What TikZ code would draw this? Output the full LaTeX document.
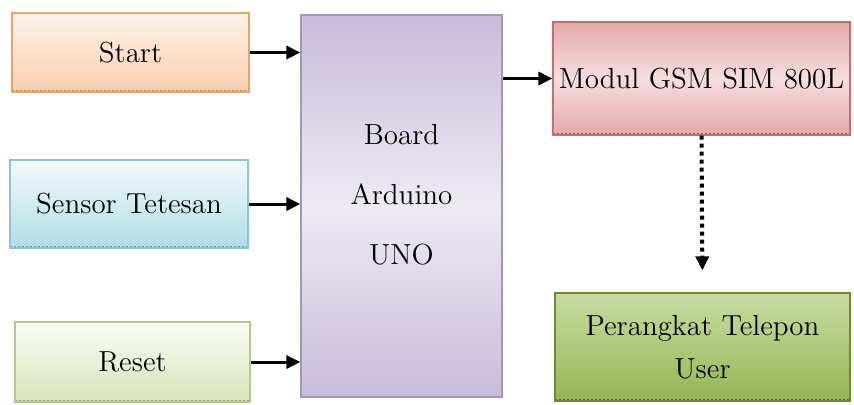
\documentclass[tikz,border=0pt]{standalone}
\usepackage{xcolor}
\usetikzlibrary{arrows.meta, positioning, calc}

\definecolor{startedge}{HTML}{E8A468}
\definecolor{starttop}{HTML}{FDF3EA}
\definecolor{startbot}{HTML}{F9CFAE}
\definecolor{sensedge}{HTML}{8CC5D4}
\definecolor{senstop}{HTML}{F2FAFC}
\definecolor{sensbot}{HTML}{B3DCE7}
\definecolor{resedge}{HTML}{B5C98C}
\definecolor{restop}{HTML}{FBFDF3}
\definecolor{resbot}{HTML}{D6E3BA}
\definecolor{boardedge}{HTML}{A397BE}
\definecolor{boardmid}{HTML}{EEEAF4}
\definecolor{boarddark}{HTML}{C7BCDA}
\definecolor{gsmedge}{HTML}{C46E6E}
\definecolor{gsmtop}{HTML}{E4A9A9}
\definecolor{gsmmid}{HTML}{F6DEDE}
\definecolor{useredge}{HTML}{6E8B34}
\definecolor{usertop}{HTML}{C9DCA2}
\definecolor{userbot}{HTML}{95B653}

\begin{document}
\begin{tikzpicture}[
  x=0.5pt, y=-0.5pt,
  font=\fontsize{14.5}{21.5}\selectfont,
  >={Triangle[length=7pt, width=6.5pt]},
  blok/.style n args={3}{draw=#1, line width=0.6pt, top color=#2, bottom color=#3,
    align=center, inner sep=0pt,
    path picture={\draw[#1!80!black, line width=2pt, dash pattern=on 1pt off 1pt]
      (path picture bounding box.south west) -- (path picture bounding box.south east);}},
  panah/.style={->, line width=1.5pt},
  titik/.style={->, line width=2pt, dash pattern=on 2pt off 2pt}
]
\useasboundingbox (0,0) rectangle (854,404);

% Input blocks
\node[blok={startedge}{starttop}{startbot}, minimum width=118.5pt, minimum height=39.5pt]
  (start) at (130.5,52.5) {Start};
\node[blok={sensedge}{senstop}{sensbot}, minimum width=119pt, minimum height=44pt]
  (sensor) at (129,204) {Sensor Tetesan};
\node[blok={resedge}{restop}{resbot}, minimum width=117.5pt, minimum height=40pt]
  (reset) at (132.5,362) {Reset};

% Arduino board
\node[draw=boardedge, line width=0.6pt, align=center, inner sep=0pt,
  minimum width=100.5pt, minimum height=191pt, text depth=12pt,
  top color=boarddark, bottom color=boarddark, middle color=boardmid,
  font=\fontsize{14.5}{30}\selectfont]
  (board) at (401.5,206) {Board\\Arduino\\UNO};

% Output blocks
\node[blok={gsmedge}{gsmtop}{gsmtop}, middle color=gsmmid, minimum width=148.5pt, minimum height=56.5pt]
  (gsm) at (701.5,78.5) {Modul GSM SIM 800L};
\node[blok={useredge}{usertop}{userbot}, minimum width=147.5pt, minimum height=54pt]
  (user) at (702.5,347) {Perangkat Telepon\\User};

% Connections
\draw[panah] (start.east) -- (start.east -| board.west);
\draw[panah] (sensor.east) -- (sensor.east -| board.west);
\draw[panah] (reset.east) -- (reset.east -| board.west);
\draw[panah] (gsm.west -| board.east) -- (gsm.west);
\draw[titik, shorten >=11pt] (gsm.south) -- (user.north);

\end{tikzpicture}
\end{document}
